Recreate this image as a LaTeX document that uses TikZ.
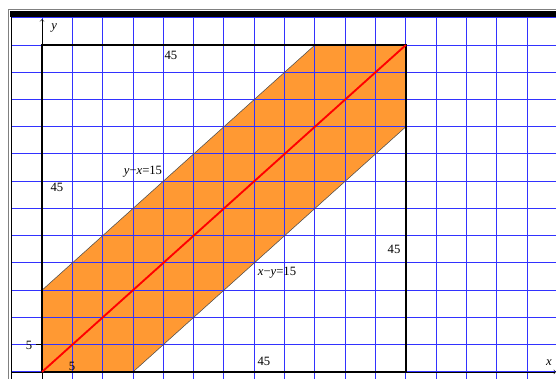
\documentclass[tikz,border=0pt]{standalone}
\usepackage{amsmath,amssymb}
\usepackage{tikz}
\usepackage{xcolor}
\usepackage{fontspec}
\setmainfont{Liberation Serif}
\definecolor{bandorange}{RGB}{255,153,51}
\definecolor{gridblue}{RGB}{50,50,255}
\tikzset{gridline/.style={gridblue,line width=0.7pt}, lbl/.style={font=\fontsize{9.5}{11}\selectfont,inner sep=0pt}}

\begin{document}
\begin{tikzpicture}[x=22.75pt,y=20.44pt]
  \useasboundingbox (-1.385,-0.257) rectangle (16.95,13.651);
  \fill[bandorange] (0,0) -- (3,0) -- (12,9) -- (12,12) -- (9,12) -- (0,3) -- cycle;
  \foreach \i in {-1,...,16} \draw[gridline] (\i,-0.257) -- (\i,13.03);
  \foreach \j in {0,...,13} \draw[gridline] (-1,\j) -- (16.95,\j);
  \draw[gray] (-1.121,-0.3) |- (17,13.321); \fill[black] (-1.05,13.03) rectangle (17,13.25); \draw (-1.02,-0.3) -- (-1.02,13.1);
  \draw[black!70] (3,0) -- (12,9); \draw[black!70] (0,3) -- (9,12);
  \draw[->] (-1,0) -- (16.95,0); \draw[->] (0,-0.257) -- (0,12.95);
  \draw[line width=1.8pt] (0,0) rectangle (12,12); \draw (-0.2,1) -- (0,1);
  \draw[red,line width=1.4pt] (0,0) -- (12,12);
  \node[lbl] (xl) at (16.72,0.33) {\textit{x}}; \node[lbl] (yl) at (0.40,12.62) {\textit{y}};
  \node[lbl] (top) at (4.25,11.63) {45}; \node[lbl] (left) at (0.49,6.79) {45};
  \node[lbl] (right) at (11.61,4.51) {45}; \node[lbl] (bottom) at (7.32,0.40) {45};
  \node[lbl] (upper) at (3.33,7.34) {\textit{y}−\textit{x}=15}; \node[lbl] (lower) at (7.75,3.63) {\textit{x}−\textit{y}=15};
  \node[lbl] (fivey) at (-0.43,0.99) {5}; \node[lbl] (fivex) at (0.99,0.22) {5};
\end{tikzpicture}
\end{document}
